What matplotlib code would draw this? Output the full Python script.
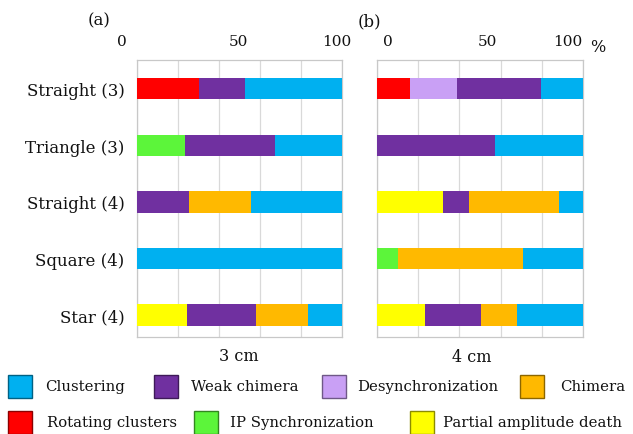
import numpy as np
import matplotlib
matplotlib.use("Agg")
import matplotlib.pyplot as plt
from matplotlib.patches import Rectangle

plt.rcParams['font.family'] = ['DejaVu Serif']

# configurations, top to bottom
configs = ['Straight (3)', 'Triangle (3)', 'Straight (4)', 'Square (4)', 'Star (4)']

# stacking order (left to right) and colours
states = ['Rotating clusters', 'IP Synchronization', 'Partial amplitude death',
          'Desynchronization', 'Weak chimera', 'Chimera', 'Clustering']
colors = {'Clustering': '#00B0F0', 'Weak chimera': '#7030A0',
          'Desynchronization': '#C9A0F5', 'Chimera': '#FFB900',
          'Rotating clusters': '#FF0000', 'IP Synchronization': '#5CF53A',
          'Partial amplitude death': '#FFFF00'}

# (a) 3 cm, percent of runs
a_rotating = [30, 0, 0, 0, 0]
a_ip_sync = [0, 23.5, 0, 0, 0]
a_pad = [0, 0, 0, 0, 24.5]
a_desync = [0, 0, 0, 0, 0]
a_weak = [22.5, 44, 25.5, 0, 33.5]
a_chimera = [0, 0, 30, 0, 25.5]
a_clustering = [47.5, 32.5, 44.5, 100, 16.5]

# (b) 4 cm
b_rotating = [16, 0, 0, 0, 0]
b_ip_sync = [0, 0, 0, 10, 0]
b_pad = [0, 0, 32, 0, 23.5]
b_desync = [23, 0, 0, 0, 0]
b_weak = [40.5, 57.5, 12.5, 0, 27]
b_chimera = [0, 0, 44, 61, 17.5]
b_clustering = [20.5, 42.5, 11.5, 29, 32]

panel_a = [a_rotating, a_ip_sync, a_pad, a_desync, a_weak, a_chimera, a_clustering]
panel_b = [b_rotating, b_ip_sync, b_pad, b_desync, b_weak, b_chimera, b_clustering]

W, H = 633, 435
fig = plt.figure(figsize=(W / 100, H / 100), dpi=100)


def px_axes(l, t, r, b):
    return fig.add_axes([l / W, 1 - b / H, (r - l) / W, (b - t) / H])


ax_a = px_axes(137, 61, 342, 338)
ax_b = px_axes(377, 61, 583, 338)

y = np.arange(len(configs))
for ax, panel in [(ax_a, panel_a), (ax_b, panel_b)]:
    left = np.zeros(len(configs))
    for name, vals in zip(states, panel):
        vals = np.array(vals, dtype=float)
        ax.barh(y, vals, left=left, height=0.377, color=colors[name],
                linewidth=0, zorder=3)
        left += vals
    ax.set_xlim(0, 100)
    ax.set_ylim(4.39, -0.51)
    ax.set_xticks([0, 20, 40, 60, 80, 100])
    ax.grid(axis='x', color='#d9d9d9', linewidth=0.9, zorder=0)
    ax.tick_params(axis='x', length=0, labelbottom=False, labeltop=False)
    ax.tick_params(axis='y', length=0)
    for s in ax.spines.values():
        s.set_color('#c8c8c8')
        s.set_linewidth(0.9)

ax_a.set_yticks(y)
ax_a.set_yticklabels(configs, fontsize=12, color='#111111')
ax_a.tick_params(axis='y', pad=9)
ax_b.set_yticks([])


def ftext(x, yy, s, size, ha='center'):
    fig.text(x / W, 1 - yy / H, s, fontsize=size, ha=ha, va='center',
             color='#111111')


# panel letters and top scale labels
ftext(99, 21, '(a)', 12)
ftext(369, 22, '(b)', 12)
for xx, s in [(122, '0'), (238, '50'), (337, '100'),
              (388, '0'), (487, '50'), (568, '100')]:
    ftext(xx, 42, s, 11)
ftext(598, 48, '%', 11.5)

ftext(239, 357, '3 cm', 11.5)
ftext(472, 358, '4 cm', 11.5)

# legend
legend_items = [('Clustering', 8, 45, 387), ('Weak chimera', 154, 191, 387),
                ('Desynchronization', 322, 357, 387), ('Chimera', 520, 560, 387),
                ('Rotating clusters', 8, 47, 423), ('IP Synchronization', 194, 230, 423),
                ('Partial amplitude death', 410, 443, 423)]
for name, sx, tx, cy in legend_items:
    c = np.array(matplotlib.colors.to_rgb(colors[name]))
    fig.patches.append(Rectangle((sx / W, 1 - (cy + 11.5) / H), 24 / W, 23 / H,
                                 transform=fig.transFigure, facecolor=c,
                                 edgecolor=c * 0.55, linewidth=1.0))
    ftext(tx, cy, name, 10.7, ha='left')

fig.savefig('out.png', dpi=100)
